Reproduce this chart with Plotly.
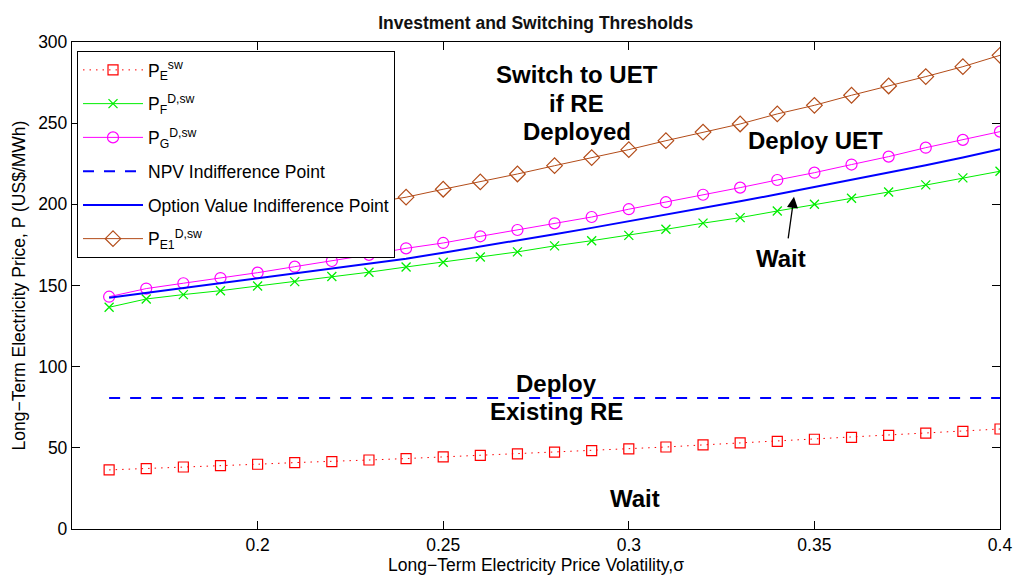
import plotly.graph_objects as go

# Long-term electricity price volatility grid
sigma = [0.16, 0.17, 0.18, 0.19, 0.20, 0.21, 0.22, 0.23, 0.24, 0.25, 0.26, 0.27, 0.28,
         0.29, 0.30, 0.31, 0.32, 0.33, 0.34, 0.35, 0.36, 0.37, 0.38, 0.39, 0.40]

# Threshold prices (US$/MWh)
p_e_sw = [36.4, 37.2, 38.2, 39.0, 39.9, 40.9, 41.5, 42.5, 43.4, 44.4, 45.4, 46.3, 47.3,
          48.3, 49.3, 50.5, 51.8, 53.0, 54.0, 55.3, 56.5, 57.7, 59.0, 60.2, 61.6]
p_f_dsw = [136.6, 141.7, 144.4, 146.8, 149.7, 152.4, 155.5, 158.2, 161.4, 164.3, 167.6, 170.7, 174.4,
           177.6, 180.9, 184.6, 188.4, 191.8, 195.9, 200.0, 203.7, 207.6, 212.0, 216.3, 220.4]
p_g_dsw = [143.1, 148.1, 151.4, 154.6, 157.9, 161.6, 165.1, 168.9, 172.9, 176.2, 180.3, 184.2, 188.3,
           192.2, 197.0, 201.3, 205.9, 210.3, 215.0, 219.5, 224.5, 229.4, 234.9, 239.7, 244.8]
npv_indiff = 80.7
option_indiff = [142.5, 145.5, 148.5, 151.5, 154.5, 157.5, 160.5, 163.5, 166.5, 170.2, 173.9, 177.7, 181.6,
                 185.5, 189.5, 193.6, 197.7, 201.9, 206.2, 210.6, 215.0, 219.5, 224.1, 228.9, 233.9]
p_e1_dsw = [174.5, 178.5, 182.3, 186.0, 189.6, 193.2, 196.8, 200.4, 204.4, 209.3, 213.8, 218.7, 223.8,
            228.8, 233.7, 239.2, 244.5, 249.5, 255.7, 261.0, 267.2, 272.9, 278.7, 284.8, 291.8]

x_ticks = [0.2, 0.25, 0.3, 0.35, 0.4]
x_ticklabels = ["0.2", "0.25", "0.3", "0.35", "0.4"]
y_ticks = [0, 50, 100, 150, 200, 250, 300]

FONT = "Liberation Sans, Arial, Helvetica, sans-serif"
FS = 17.5

fig = go.Figure()

fig.add_trace(go.Scatter(
    x=sigma, y=p_e_sw, mode="lines+markers", name="P<sub>E</sub><sup>sw</sup>",
    legendgroup="a",
    line=dict(color="#FF0000", width=1, dash="1.5px,5px"),
    marker=dict(symbol="square-open", size=10, color="#FF0000", line=dict(width=1.2)),
))
fig.add_trace(go.Scatter(
    x=sigma, y=p_f_dsw, mode="lines+markers", name="P<sub>F</sub><sup>D,sw</sup>",
    legendgroup="b",
    line=dict(color="#00EE00", width=1),
    marker=dict(symbol="x-thin-open", size=9, color="#00EE00", line=dict(width=1.3, color="#00EE00")),
))
fig.add_trace(go.Scatter(
    x=sigma, y=p_g_dsw, mode="lines+markers", name="P<sub>G</sub><sup>D,sw</sup>",
    legendgroup="c",
    line=dict(color="#FF00FF", width=1),
    marker=dict(symbol="circle-open", size=11, color="#FF00FF", line=dict(width=1.2)),
))
fig.add_trace(go.Scatter(
    x=sigma, y=[npv_indiff] * len(sigma), mode="lines", name="NPV Indifference Point",
    legendgroup="d",
    line=dict(color="#0000FF", width=2, dash="11px,10px"),
))
fig.add_trace(go.Scatter(
    x=sigma, y=option_indiff, mode="lines", name="Option Value Indifference Point",
    legendgroup="e",
    line=dict(color="#0000FF", width=2),
))
fig.add_trace(go.Scatter(
    x=sigma, y=p_e1_dsw, mode="lines+markers", name="P<sub>E1</sub><sup>D,sw</sup>",
    legendgroup="f",
    line=dict(color="#B34C19", width=1),
    marker=dict(symbol="diamond-open", size=12, color="#B34C19", line=dict(width=1.2)),
))

# Region labels
labels = [
    ("Switch to UET", 0.2860, 279.7),
    ("if RE", 0.2860, 262.4),
    ("Deployed", 0.2860, 244.6),
    ("Deploy UET", 0.3504, 239.6),
    ("Wait", 0.3411, 166.9),
    ("Deploy", 0.2806, 89.9),
    ("Existing RE", 0.2805, 72.3),
    ("Wait", 0.3017, 18.5),
]
for txt, xv, yv in labels:
    fig.add_annotation(x=xv, y=yv, xref="x", yref="y", text="<b>%s</b>" % txt,
                       showarrow=False, xanchor="center", yanchor="middle",
                       font=dict(family=FONT, size=24, color="black"))

# Arrow from the upper "Wait" label to the option-value boundary
fig.add_annotation(x=0.3445, y=204.6, xref="x", yref="y", text="",
                   showarrow=True, ax=-6, ay=43, arrowhead=2, arrowsize=1.7,
                   arrowwidth=1.3, arrowcolor="black")

axis_common = dict(
    showline=True, linecolor="black", linewidth=1.3, mirror="ticks",
    ticks="inside", ticklen=8, tickcolor="black", tickwidth=1,
    showgrid=False, zeroline=False, automargin=False,
    tickfont=dict(family=FONT, size=FS, color="black"),
)

fig.update_layout(
    template="none",
    width=1013, height=576,
    margin=dict(l=72, r=13, t=42, b=47, autoexpand=False),
    paper_bgcolor="white", plot_bgcolor="white",
    font=dict(family=FONT, size=FS, color="black"),
    title=dict(text="<b>Investment and Switching Thresholds</b>",
               x=0.4997, xref="paper", xanchor="center",
               y=1 - 22.7 / 576, yref="container", yanchor="middle",
               font=dict(family=FONT, size=17.5, color="#111111")),
    xaxis=dict(range=[0.15, 0.4], tickvals=x_ticks, ticktext=x_ticklabels,
               ticklabelstandoff=0,
               title=dict(text="Long\u2212Term Electricity Price Volatility,\u03c3",
                          standoff=3, font=dict(family=FONT, size=FS)),
               **axis_common),
    yaxis=dict(range=[0, 300], tickvals=y_ticks,
               title=dict(text="Long\u2212Term Electricity Price, P (US$/MWh)",
                          standoff=8, font=dict(family=FONT, size=FS)),
               **axis_common),
    legend=dict(x=0.0054, y=0.9815, xanchor="left", yanchor="top",
                bgcolor="white", bordercolor="black", borderwidth=1,
                font=dict(family=FONT, size=FS, color="black"),
                itemwidth=60, tracegroupgap=8, traceorder="grouped"),
    showlegend=True,
)

fig.write_html("out.html")
